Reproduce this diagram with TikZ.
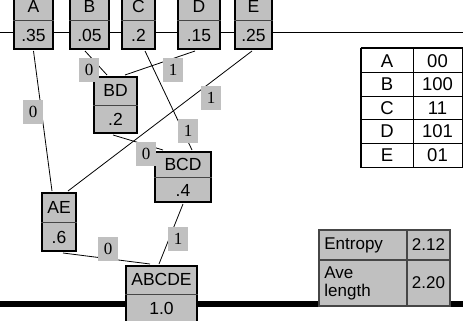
\documentclass[tikz,border=0pt]{standalone}
\usepackage{fontspec}
\setmainfont{Liberation Sans}
\newfontfamily\bitfont{Liberation Serif}
\usetikzlibrary{calc}
\definecolor{cellgray}{RGB}{192,192,192}
\definecolor{rulegray}{RGB}{70,70,70}

% A two-cell tree box: name, centre x, centre y, width, height, symbols, probability
\newcommand\treebox[7]{%
  \node[cellbox, minimum width=#4pt, minimum height=#5pt] (#1) at (#2,#3) {};
  \draw[divider] (#1.west) -- (#1.east);
  \node[boxtext] (#1-sym) at ($(#1.center)!0.5!(#1.north)$) {#6};
  \node[boxtext] (#1-prob) at ($(#1.center)!0.5!(#1.south)$) {#7};
}

\begin{document}
\begin{tikzpicture}[x=1pt,y=-1pt,
  cellbox/.style={draw=black, line width=2pt, fill=cellgray, inner sep=0pt},
  divider/.style={draw=rulegray, line width=1pt},
  boxtext/.style={inner sep=0pt, font=\fontsize{17.5}{18}\selectfont},
  edge/.style={draw=black, line width=0.8pt},
  bit/.style={fill=cellgray, minimum width=20pt, minimum height=24pt, inner sep=0pt,
    font=\bitfont\fontsize{17}{17}\selectfont},
  codecell/.style={draw=black, line width=1pt, minimum height=23.6pt, inner sep=0pt,
    font=\fontsize{18.5}{19}\selectfont},
  statcell/.style={draw=rulegray, line width=1.6pt, fill=cellgray, inner sep=0pt},
  stattext/.style={inner sep=0pt, font=\fontsize{17}{18}\selectfont, align=left}]
\useasboundingbox (0,0) rectangle (463,321);

% baseline rules behind the boxes
\coordinate (topL) at (0,33);
\coordinate (topR) at (463,33);
\coordinate (botL) at (0,304);
\coordinate (botR) at (463,304);
\draw[line width=1pt] (topL) -- (topR);
\draw[line width=6pt] (botL) -- (botR);

% leaves and merged nodes
\treebox{A}{33.5}{21}{39}{56}{A}{.35}
\treebox{B}{89.5}{21}{39}{56}{B}{.05}
\treebox{C}{138.5}{21}{33}{56}{C}{.2}
\treebox{D}{199}{21}{42}{56}{D}{.15}
\treebox{E}{253.5}{21}{37}{56}{E}{.25}
\treebox{BD}{115.5}{105}{43}{56}{BD}{.2}
\treebox{BCD}{183}{177}{56}{50}{BCD}{.4}
\treebox{AE}{59}{222}{34}{58}{AE}{.6}
\treebox{ABCDE}{161.5}{294}{71}{56}{ABCDE}{1.0}

% tree edges
\path[edge] ($(A.south)+(0,1)$) -- ($(AE.north)+(-7,-1)$);
\path[edge] ($(B.south)+(-4.5,1)$) -- ($(BD.north)+(-8.5,-1)$);
\path[edge] ($(D.south)+(-4,1)$) -- ($(BD.north)+(9.5,-1)$);
\path[edge] ($(C.south)+(6.5,1)$) -- ($(BCD.north)+(9,-1)$);
\path[edge] ($(E.south)+(-1.5,1)$) -- ($(AE.north)+(9,-1)$);
\path[edge] ($(BD.south)+(-2.5,1)$) -- ($(BCD.north)+(-20,-1)$);
\path[edge] ($(BCD.south)+(0,1)$) -- ($(ABCDE.north)+(-2.5,-1)$);
\path[edge] ($(AE.south)+(4,1)$) -- ($(ABCDE.north)+(-11.5,-1)$);

% branch bits
\node[bit] (b1) at (89,70) {0};
\node[bit] (b2) at (173,70) {1};
\node[bit] (b3) at (211,98) {1};
\node[bit] (b4) at (33,112) {0};
\node[bit] (b5) at (188,131) {1};
\node[bit] (b6) at (146,154) {0};
\node[bit] (b7) at (108,249) {0};
\node[bit] (b8) at (178,239) {1};

% code table
\foreach \s/\c [count=\i from 0] in {A/00,B/100,C/11,D/101,E/01}{
  \node[codecell, minimum width=52pt] (sym\s) at (387,{60.8+23.6*\i}) {\s};
  \node[codecell, minimum width=49pt] (code\s) at (437.5,{60.8+23.6*\i}) {\c};
}
\draw[line width=2pt] (symA.north west) -- (symE.south west);
\draw[line width=2pt] (symA.north west) -- (codeA.north east);

% entropy / average length table
\node[statcell, minimum width=88pt, minimum height=30pt] (entL) at (363,245) {};
\node[statcell, minimum width=43pt, minimum height=30pt] (entR) at (428.5,245) {};
\node[statcell, minimum width=88pt, minimum height=46pt] (aveL) at (363,283) {};
\node[statcell, minimum width=43pt, minimum height=46pt] (aveR) at (428.5,283) {};
\node[stattext, anchor=west] at ($(entL.west)+(6,0)$) {Entropy};
\node[stattext] at (entR) {2.12};
\node[stattext, anchor=west] at ($(aveL.west)+(6,0)$) {Ave\\length};
\node[stattext] at (aveR) {2.20};
\end{tikzpicture}
\end{document}
